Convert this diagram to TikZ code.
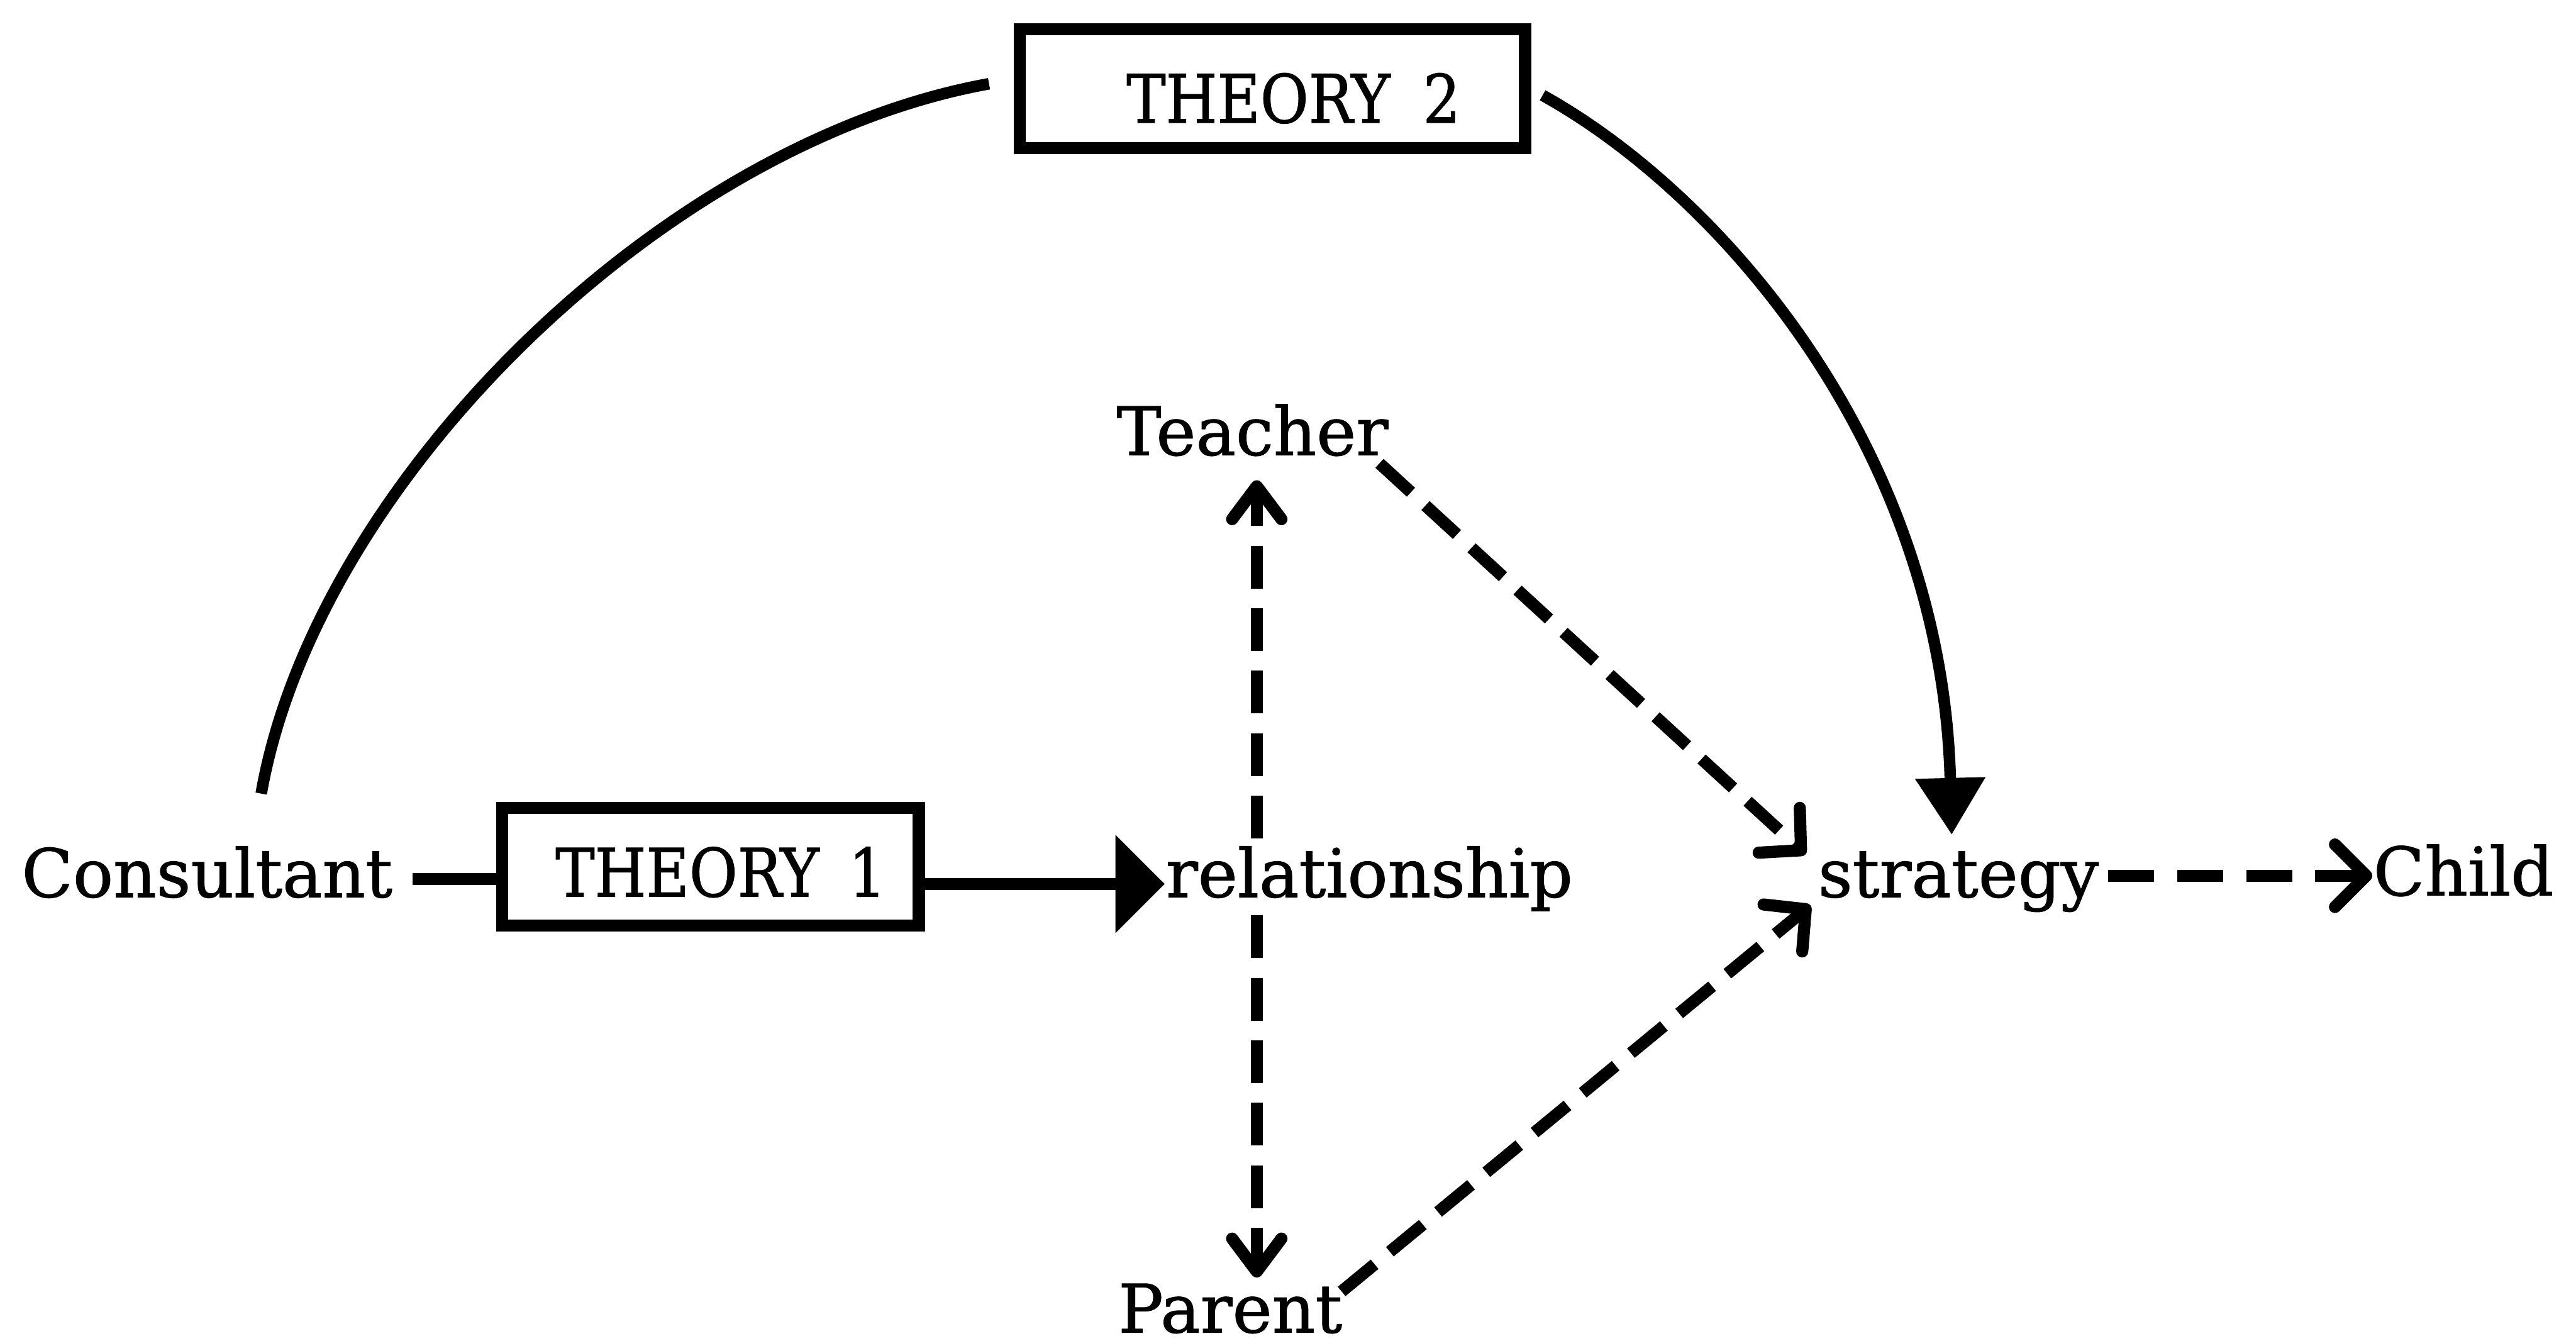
\documentclass[tikz,border=0pt]{standalone}
\usepackage{fontspec}
\setmainfont{DejaVu Serif}[FakeBold=1]
\newfontfamily\capfont{DejaVu Serif}[FakeStretch=0.88,FakeBold=1]
\usetikzlibrary{arrows.meta,calc}
\begin{document}
\begin{tikzpicture}[x=0.01cm,y=-0.01cm,
  every node/.style={font=\fontsize{11.6}{14}\selectfont},
  lbl/.style={inner sep=0pt, anchor=base west},
  theorybox/.style={draw, line width=2.1pt, inner sep=0pt, font=\fontsize{11.6}{14}\selectfont\capfont},
  solidline/.style={line width=2pt},
  dashline/.style={line width=2.1pt, dash pattern=on 0.26cm off 0.12cm},
  childdash/.style={line width=2.1pt, dash pattern=on 0.28cm off 0.14cm},
  barbA/.style={-{Straight Barb[length=0.18cm,width=0.37cm,round]}},
  barbB/.style={-{Straight Barb[length=0.2cm,width=0.3cm,round]}},
  barbC/.style={-{Straight Barb[length=0.19cm,width=0.38cm,round]}},
  tritip/.style={-{Triangle[length=0.345cm,width=0.41cm]}},
  bigtip/.style={-{Triangle[length=0.3cm,width=0.58cm]}}
]
\useasboundingbox (0,0) rectangle (1568,816);

% nodes
\node[lbl] (cons) at (12.5,546) {Consultant};
\node[theorybox, minimum width=2.534cm, minimum height=0.714cm, text height=0.37cm] (t1) at (432.5,527.5) {\hspace{0.125cm}THEORY\hspace{0.18cm}1};
\node[lbl] (rel) at (709,546) {relationship};
\node[lbl] (teach) at (679,277) {Teacher};
\node[lbl] (par) at (680,811) {Parent};
\node[lbl] (strat) at (1106,546) {strategy};
\node[lbl] (child) at (1444,545) {Child};
\node[theorybox, minimum width=3.074cm, minimum height=0.724cm, text height=0.42cm] (t2) at (774.5,54) {\hspace{0.257cm}THEORY\hspace{0.2cm}2};

% Consultant -- THEORY 1
\coordinate (c1) at ($(cons.base east)+(11.5,-11)$);
\draw[solidline] (c1) -- (c1 -| t1.west);

% THEORY 1 -> relationship
\coordinate (c2) at ($(rel.base west)+(0,-8)$);
\draw[solidline, bigtip] (c2 -| t1.east) -- (c2);

% relationship -> Teacher, relationship -> Parent
\coordinate (vx) at ($(rel.base west)+(56,0)$);
\draw[dashline, barbB] ($(vx |- rel.north)+(0,-4)$) -- ($(vx |- teach.south)+(0,14)$);
\draw[dashline, barbB] ($(vx |- rel.south)+(0,2)$) -- ($(vx |- par.north)+(0,-3)$);

% Teacher -> strategy, Parent -> strategy
\draw[dashline, barbA] ($(teach.base east)+(-6,5)$) -- ($(strat.base west)+(-7,-26)$);
\draw[dashline, barbA] ($(par.base east)+(-1,-25)$) -- ($(strat.base west)+(-4,5)$);

% strategy -> Child
\coordinate (c3) at ($(strat.base east)+(5,-13)$);
\draw[childdash, barbC] (c3) -- (c3 -| child.base west);

% Consultant -- THEORY 2
\draw[solidline] ($(cons.base west)+(146.5,-63)$) .. controls +(33,-188) and +(-200,36) .. ($(t2.west)+(-15,-3)$);

% THEORY 2 -> strategy
\draw[solidline, tritip] ($(t2.east)+(7,4)$) .. controls +(108,60) and +(-6,-236) .. ($(strat.base west)+(82,-38)$);
\end{tikzpicture}
\end{document}
